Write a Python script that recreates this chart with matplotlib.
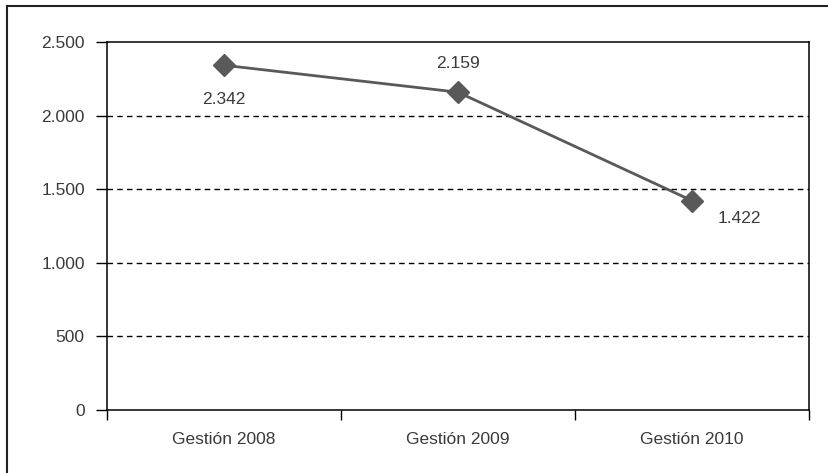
import matplotlib
matplotlib.use("Agg")
import matplotlib.pyplot as plt
from matplotlib.lines import Line2D

categorias = ["Gestión 2008", "Gestión 2009", "Gestión 2010"]
valores = [2342, 2159, 1422]
etiquetas = ["2.342", "2.159", "1.422"]
yticks = [0, 500, 1000, 1500, 2000, 2500]
ytick_labels = ["0", "500", "1.000", "1.500", "2.000", "2.500"]

plt.rcParams['font.family'] = ['Liberation Sans', 'DejaVu Sans']
texto = '#3a3a3a'
gris = '#595959'

fig = plt.figure(figsize=(8.29, 4.73), dpi=100)
ax = fig.add_axes([107/829, 1 - 410/473, 702/829, 368/473])

x = list(range(len(categorias)))
ax.plot(x, valores, color=gris, lw=2, marker='D', markersize=11,
        markerfacecolor=gris, markeredgecolor=gris, zorder=3)

# posicion de las etiquetas (en puntos)
offsets = [(0, -25), (0, 21), (34, -13)]
for xi, v, lab, off in zip(x, valores, etiquetas, offsets):
    ax.annotate(lab, (xi, v), xytext=off, textcoords='offset points',
                ha='center', va='center', fontsize=12.5, color=texto)

ax.set_xlim(-0.5, 2.5)
ax.set_ylim(0, 2500)
ax.set_yticks(yticks)
ax.set_yticklabels(ytick_labels)
for g in yticks[1:-1]:
    ax.axhline(g, color='black', lw=1, ls=(0, (4, 3)), zorder=1)

ax.set_xticks(x)
ax.set_xticklabels(categorias)
ax.set_xticks([-0.5, 0.5, 1.5, 2.5], minor=True)
ax.tick_params(axis='x', which='major', length=0, pad=16, labelsize=12.5, labelcolor=texto)
ax.tick_params(axis='x', which='minor', length=7.5, width=1, direction='out')
ax.tick_params(axis='y', length=8, width=1, direction='out', pad=8, labelsize=12.5, labelcolor=texto)
for s in ax.spines.values():
    s.set_linewidth(1.1)
    s.set_color('black')

# marco exterior
fig.add_artist(Line2D([7.5/829, 7.5/829], [0, 1 - 6.5/473], transform=fig.transFigure,
                      color='#222222', lw=1.5))
fig.add_artist(Line2D([7.5/829, 1], [1 - 6.5/473, 1 - 6.5/473], transform=fig.transFigure,
                      color='#222222', lw=1.5))

fig.savefig("out.png", dpi=100)
